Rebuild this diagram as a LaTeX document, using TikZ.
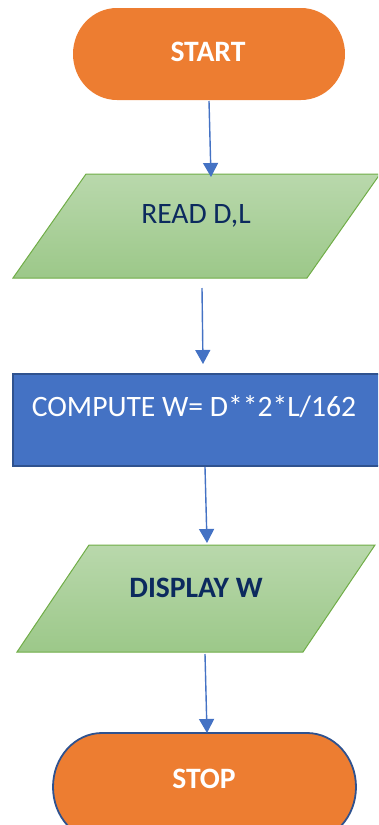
\documentclass[tikz,border=0pt]{standalone}
\usepackage{fontspec}
\setmainfont{Carlito}
\usetikzlibrary{arrows.meta}
\definecolor{orng}{HTML}{ED7D31}
\definecolor{gtop}{HTML}{B9D8AC}
\definecolor{gbot}{HTML}{9CC889}
\definecolor{gline}{HTML}{70AD47}
\definecolor{navy}{HTML}{0C2A5E}
\definecolor{bfill}{HTML}{4472C4}
\definecolor{bline}{HTML}{2F528F}
\begin{document}
\begin{tikzpicture}[x=1pt,y=-1pt,
  txt/.style={inner sep=0pt,font=\fontsize{29.6}{35}\selectfont},
  arr/.style={draw=bfill,line width=1.4pt,-{Triangle[width=15pt,length=14pt]}},
  para/.style={top color=gtop,bottom color=gbot,draw=gline,line width=1pt}]
\useasboundingbox (0,0) rectangle (378,825);
\begin{scope}
\clip (0,0) rectangle (378,825);
% START terminator
\fill[orng] (117,8) -- (301,8) arc[start angle=90,end angle=-90,x radius=44pt,y radius=46pt]
  -- (117,100) arc[start angle=270,end angle=90,x radius=44pt,y radius=46pt] -- cycle;
% READ parallelogram
\shadedraw[para] (86,174) -- (380,174) -- (307,278) -- (13,278) -- cycle;
% COMPUTE box
\filldraw[fill=bfill,draw=bline,line width=2pt] (13,374) rectangle (392,466);
% DISPLAY parallelogram
\shadedraw[para] (89,545) -- (375,545) -- (303,652) -- (17,652) -- cycle;
% STOP terminator
\filldraw[fill=orng,draw=bline,line width=1.8pt] (102,733) -- (307,733)
  arc[start angle=90,end angle=-90,x radius=49pt,y radius=54pt]
  -- (102,841) arc[start angle=270,end angle=90,x radius=49pt,y radius=54pt] -- cycle;
\end{scope}
% texts
\node[txt,text=white] (start) at (208,52) {\bfseries START};
\node[txt,text=navy] (read) at (196,216) {READ D,L};
\node[txt,text=white] (compute) at (194,407) {COMPUTE W= D**2*L/162};
\node[txt,text=navy] (display) at (196,588) {\bfseries DISPLAY W};
\node[txt,text=white] (stop) at (204,779) {\bfseries STOP};
% connector ends
\coordinate (a1s) at (209,101);
\coordinate (a1e) at (211,177);
\coordinate (a2s) at (202,288);
\coordinate (a2e) at (203,364);
\coordinate (a3s) at (205,467);
\coordinate (a3e) at (207,543);
\coordinate (a4s) at (205,654);
\coordinate (a4e) at (207,733);
\draw[arr] (a1s) -- (a1e);
\draw[arr] (a2s) -- (a2e);
\draw[arr] (a3s) -- (a3e);
\draw[arr] (a4s) -- (a4e);
\end{tikzpicture}
\end{document}
